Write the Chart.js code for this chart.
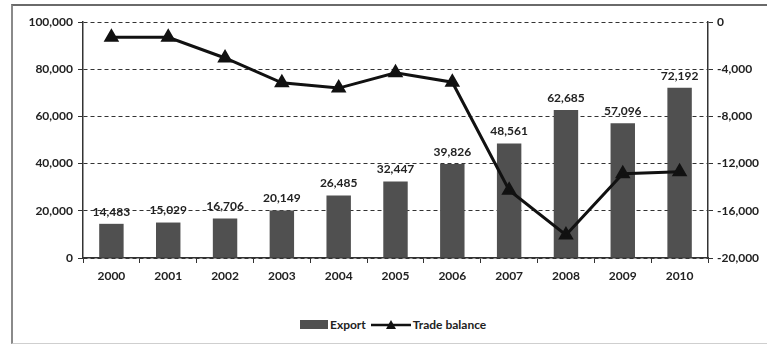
<!DOCTYPE html>
<html>
<head>
<meta charset="utf-8">
<script src="https://cdn.jsdelivr.net/npm/chart.js@4.4.1/dist/chart.umd.min.js"></script>
<style>
  body { margin: 0; background: #fff; width: 767px; height: 347px; overflow: hidden; position: relative; font-family: Lato, "Open Sans", sans-serif; }
  #frame { position: absolute; left: 11px; top: 4px; width: 780px; height: 340px; border-top: 2px solid #6a6a6a; border-left: 2px solid #8a8a8a; border-bottom: 1px solid #cfcfcf; box-sizing: border-box; }
  #wrap { position: absolute; left: 0; top: 0; width: 767px; height: 300px; }
  #legend { position: absolute; top: 317px; left: 300px; display: flex; align-items: center; font-size: 12px; font-weight: bold; color: #222; }
  .box { width: 28px; height: 9px; background: #505050; display: inline-block; margin-right: 2px; }
</style>
</head>
<body>
<div id="frame"></div>
<div id="wrap"><canvas id="myChart" width="767" height="300"></canvas></div>
<div id="legend">
  <span class="box"></span><span>Export</span>
  <svg width="42" height="12" style="margin-left:5px"><line x1="0" y1="6" x2="40" y2="6" stroke="#111" stroke-width="2.5"/><polygon points="20,1 25,10 15,10" fill="#111"/></svg>
  <span>Trade balance</span>
</div>
<script>
// Donnees du graphique
const annees = ['2000', '2001', '2002', '2003', '2004', '2005', '2006', '2007', '2008', '2009', '2010'];
const exportVals = [14483, 15029, 16706, 20149, 26485, 32447, 39826, 48561, 62685, 57096, 72192];
const tradeBalance = [-1300, -1300, -3050, -5150, -5600, -4300, -5100, -14250, -18050, -12850, -12700];

const fontAxe = { family: 'Lato, "Open Sans", sans-serif', size: 12, weight: 'bold' };
const couleurTexte = '#222';

// Affiche les valeurs au-dessus des barres (dataset 1 = Export)
const etiquettesBarres = {
    id: 'etiquettesBarres',
    afterDatasetsDraw(chart) {
        const ctx = chart.ctx;
        const meta = chart.getDatasetMeta(1);
        ctx.save();
        ctx.font = 'bold 12px Lato, "Open Sans", sans-serif';
        ctx.fillStyle = couleurTexte;
        ctx.textAlign = 'center';
        ctx.textBaseline = 'bottom';
        meta.data.forEach((bar, i) => {
            ctx.fillText(exportVals[i].toLocaleString('en-US'), bar.x, bar.y - 6);
        });
        ctx.restore();
    }
};

const config = {
    data: {
        labels: annees,
        datasets: [
            {
                type: 'line',
                label: 'Trade balance',
                data: tradeBalance,
                yAxisID: 'y2',
                borderColor: '#111',
                backgroundColor: '#111',
                borderWidth: 3,
                pointStyle: 'triangle',
                pointRadius: 6,
                pointBackgroundColor: '#111',
                tension: 0,
                order: 0
            },
            {
                type: 'bar',
                label: 'Export',
                data: exportVals,
                yAxisID: 'y',
                backgroundColor: '#505050',
                categoryPercentage: 1,
                barPercentage: 0.43,
                order: 1
            }
        ]
    },
    options: {
        responsive: false,
        animation: false,
        layout: { padding: { top: 22, left: 0, right: 0, bottom: 0 } },
        plugins: { legend: { display: false }, tooltip: { enabled: false } },
        scales: {
            x: {
                offset: true,
                grid: { offset: true, drawOnChartArea: false, tickLength: 5, color: '#333' },
                border: { color: '#333', width: 1.5 },
                ticks: { font: fontAxe, color: couleurTexte, padding: 6 },
                afterFit(scale) { scale.height = 42; }
            },
            y: {
                position: 'left',
                min: 0,
                max: 100000,
                ticks: {
                    stepSize: 20000,
                    font: fontAxe,
                    color: couleurTexte,
                    padding: 5,
                    callback: v => v.toLocaleString('en-US')
                },
                grid: { color: '#333', lineWidth: 1, tickLength: 5 },
                border: { color: '#333', width: 1.5, dash: [4, 3] },
                afterFit(scale) { scale.width = 83; }
            },
            y2: {
                position: 'right',
                min: -20000,
                max: 0,
                ticks: {
                    stepSize: 4000,
                    font: fontAxe,
                    color: couleurTexte,
                    padding: 4,
                    callback: v => v.toLocaleString('en-US')
                },
                grid: { drawOnChartArea: false, color: '#333', tickLength: 5 },
                border: { color: '#333', width: 1.5 },
                afterFit(scale) { scale.width = 59; }
            }
        }
    },
    plugins: [etiquettesBarres]
};

const ctx = document.getElementById('myChart').getContext('2d');
const chart = new Chart(ctx, config);
</script>
</body>
</html>
